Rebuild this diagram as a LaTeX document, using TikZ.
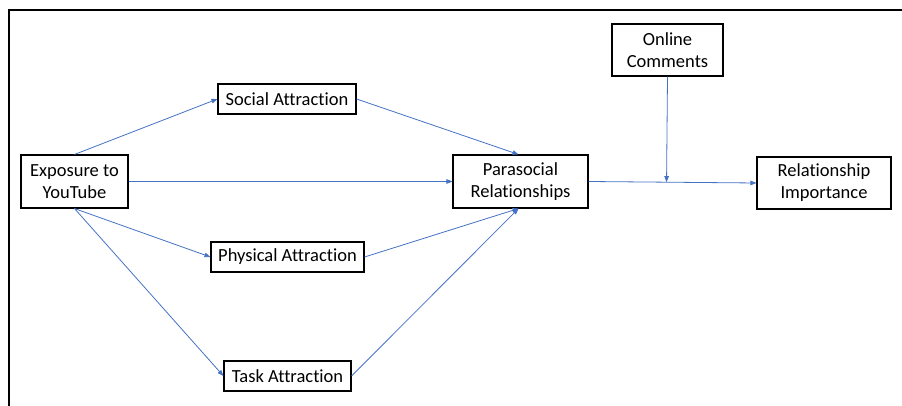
\documentclass[tikz,border=0pt]{standalone}
\usepackage{fontspec}
\setmainfont{Carlito}[Ligatures=NoCommon]
\usepackage{xcolor}
\usepackage{tikz}
\usetikzlibrary{arrows.meta}
\usetikzlibrary{calc}
\definecolor{linkblue}{RGB}{68,114,196}
\tikzset{
box/.style={
  draw=black,
  line width=1.1pt,
  rectangle,
  align=center,
  inner sep=0pt,
  font=\fontsize{18.5}{22}\selectfont
},
link/.style={
  draw=linkblue,
  line width=0.8pt,
  -{Triangle[length=6pt,width=4.5pt]}
},
}

\begin{document}
\begin{tikzpicture}[x=1pt,y=-1pt]
\useasboundingbox (0,0) rectangle (902,406);
% the frame
\draw[line width=2.8pt] (9,406) -- (9,10) -- (902,10);
% the boxes
\node[box, minimum width=107pt, minimum height=53pt] (expo) at (74.5,181.5) {Exposure to\\YouTube};
\node[box, minimum width=138pt, minimum height=30pt] (social) at (287,99) {Social Attraction};
\node[box, minimum width=153pt, minimum height=30pt] (physical) at (287.5,257) {Physical Attraction};
\node[box, minimum width=127pt, minimum height=30pt] (task) at (287.5,376) {Task Attraction};
\node[box, minimum width=135pt, minimum height=53pt] (para) at (520.5,181.5) {Parasocial\\Relationships};
\node[box, minimum width=111pt, minimum height=52pt] (comments) at (667.5,50) {Online\\Comments};
\node[box, minimum width=134pt, minimum height=52pt] (importance) at (824,183) {Relationship\\Importance};
% the arrows
\draw[link] (expo.north) -- (social.west);
\draw[link] (expo.east) -- (para.west);
\draw[link] (expo.south) -- (physical.west);
\draw[link] (expo.south) -- (task.west);
\draw[link] (social.east) -- ([xshift=-2pt]para.north);
\draw[link] (physical.east) -- ([xshift=-2pt]para.south);
\draw[link] (task.east) -- ([xshift=-2pt]para.south);
\draw[link] (para.east) -- (importance.west);
\coordinate (moderate) at ($(para.east)!(comments.south)!(importance.west)$);
\draw[link] (comments.south) -- (moderate);
\end{tikzpicture}
\end{document}
